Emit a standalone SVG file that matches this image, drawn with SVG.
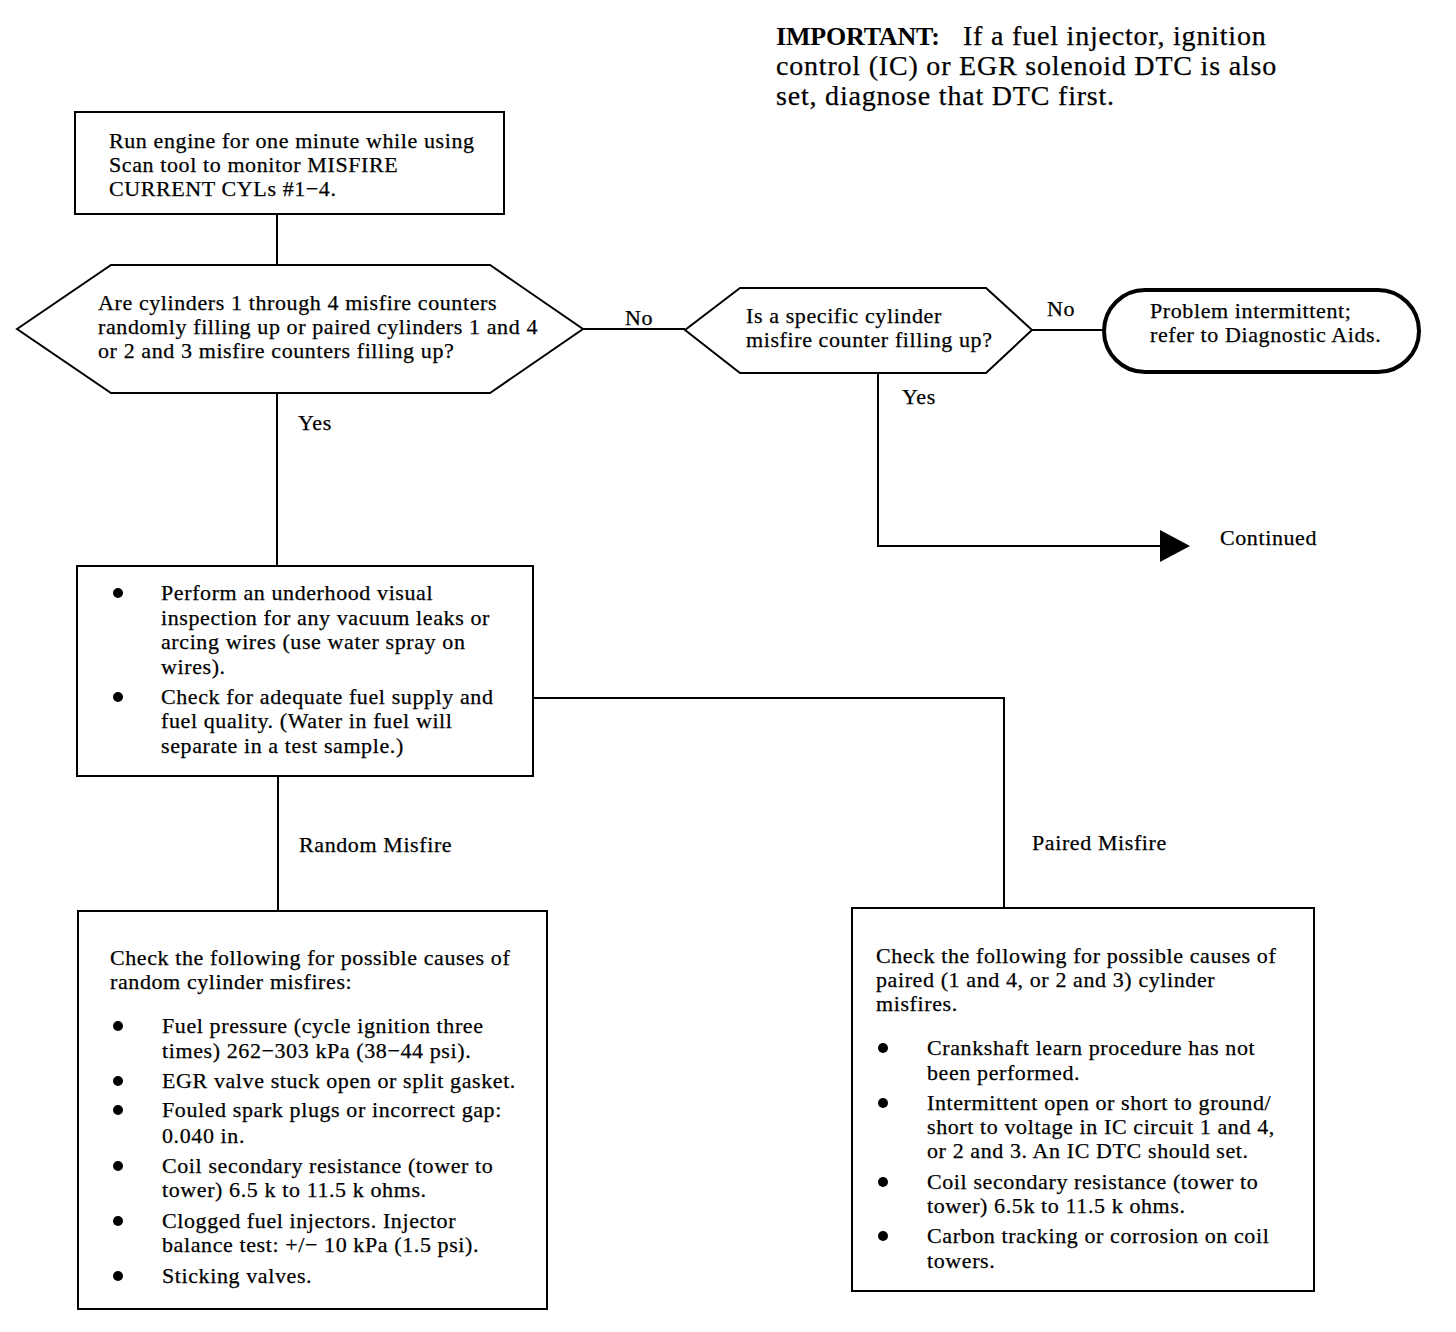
<svg xmlns="http://www.w3.org/2000/svg" width="1456" height="1332" viewBox="0 0 1456 1332">
<style>
.t{font-family:"Liberation Serif","Times New Roman",serif;font-size:22px;letter-spacing:0.6px;fill:#000;stroke:#000;stroke-width:0.25}
.imp{font-family:"Liberation Serif","Times New Roman",serif;font-size:28px;letter-spacing:0.8px;fill:#000;stroke:#000;stroke-width:0.25}
.b{font-family:"Liberation Serif","Times New Roman",serif;font-size:26px;font-weight:bold;letter-spacing:-0.2px;fill:#000}
.box{fill:#fff;stroke:#000;stroke-width:2}
.term{fill:#fff;stroke:#000;stroke-width:4}
.ln{fill:none;stroke:#000;stroke-width:2}
.dot{fill:#000}
</style>
<rect width="1456" height="1332" fill="#fff"/>
<g id="connectors">
<line class="ln" x1="277" y1="214" x2="277" y2="265"/>
<line class="ln" x1="583" y1="329" x2="685" y2="329"/>
<line class="ln" x1="1032" y1="330" x2="1104" y2="330"/>
<polyline class="ln" points="878,373 878,546 1162,546"/>
<polygon points="1160,530 1190,546 1160,562" fill="#000"/>
<line class="ln" x1="277" y1="393" x2="277" y2="566"/>
<line class="ln" x1="278" y1="776" x2="278" y2="911"/>
<polyline class="ln" points="533,698 1004,698 1004,908"/>
<text class="t" x="625" y="325">No</text>
<text class="t" x="1047" y="316">No</text>
<text class="t" x="902" y="404">Yes</text>
<text class="t" x="298" y="430">Yes</text>
<text class="t" x="299" y="852">Random Misfire</text>
<text class="t" x="1032" y="850">Paired Misfire</text>
<text class="t" x="1220" y="545">Continued</text>
</g>
<g id="important">
<text class="b" x="776" y="45">IMPORTANT:</text>
<text class="imp" x="963" y="45">If a fuel injector, ignition</text>
<text class="imp" x="776" y="75">control (IC) or EGR solenoid DTC is also</text>
<text class="imp" x="776" y="105">set, diagnose that DTC first.</text>
</g>
<g id="n1">
<rect class="box" x="75" y="112" width="429" height="102"/>
<text class="t" x="109" y="148">Run engine for one minute while using</text>
<text class="t" x="109" y="172">Scan tool to monitor MISFIRE</text>
<text class="t" x="109" y="196">CURRENT CYLs #1−4.</text>
</g>
<g id="n2">
<polygon class="box" points="17,329 111,265 490,265 583,329 490,393 111,393"/>
<text class="t" x="98" y="310">Are cylinders 1 through 4 misfire counters</text>
<text class="t" x="98" y="334">randomly filling up or paired cylinders 1 and 4</text>
<text class="t" x="98" y="358">or 2 and 3 misfire counters filling up?</text>
</g>
<g id="n3">
<polygon class="box" points="685,330 740,288 986,288 1032,330 986,373 740,373"/>
<text class="t" x="746" y="323">Is a specific cylinder</text>
<text class="t" x="746" y="347">misfire counter filling up?</text>
</g>
<g id="n4">
<rect class="term" x="1104" y="290" width="315" height="82" rx="41" ry="41"/>
<text class="t" x="1150" y="318">Problem intermittent;</text>
<text class="t" x="1150" y="342">refer to Diagnostic Aids.</text>
</g>
<g id="n5">
<rect class="box" x="77" y="566" width="456" height="210"/>
<circle class="dot" cx="118" cy="593" r="5"/>
<circle class="dot" cx="118" cy="697" r="5"/>
<text class="t" x="161" y="600">Perform an underhood visual</text>
<text class="t" x="161" y="625">inspection for any vacuum leaks or</text>
<text class="t" x="161" y="649">arcing wires (use water spray on</text>
<text class="t" x="161" y="674">wires).</text>
<text class="t" x="161" y="704">Check for adequate fuel supply and</text>
<text class="t" x="161" y="728">fuel quality. (Water in fuel will</text>
<text class="t" x="161" y="753">separate in a test sample.)</text>
</g>
<g id="n6">
<rect class="box" x="78" y="911" width="469" height="398"/>
<text class="t" x="110" y="965">Check the following for possible causes of</text>
<text class="t" x="110" y="989">random cylinder misfires:</text>
<circle class="dot" cx="118" cy="1026" r="5"/>
<circle class="dot" cx="118" cy="1081" r="5"/>
<circle class="dot" cx="118" cy="1110" r="5"/>
<circle class="dot" cx="118" cy="1166" r="5"/>
<circle class="dot" cx="118" cy="1221" r="5"/>
<circle class="dot" cx="118" cy="1276" r="5"/>
<text class="t" x="162" y="1033">Fuel pressure (cycle ignition three</text>
<text class="t" x="162" y="1058">times) 262−303 kPa (38−44 psi).</text>
<text class="t" x="162" y="1088">EGR valve stuck open or split gasket.</text>
<text class="t" x="162" y="1117">Fouled spark plugs or incorrect gap:</text>
<text class="t" x="162" y="1143">0.040 in.</text>
<text class="t" x="162" y="1173">Coil secondary resistance (tower to</text>
<text class="t" x="162" y="1197">tower) 6.5 k to 11.5 k ohms.</text>
<text class="t" x="162" y="1228">Clogged fuel injectors. Injector</text>
<text class="t" x="162" y="1252">balance test: +/− 10 kPa (1.5 psi).</text>
<text class="t" x="162" y="1283">Sticking valves.</text>
</g>
<g id="n7">
<rect class="box" x="852" y="908" width="462" height="383"/>
<text class="t" x="876" y="963">Check the following for possible causes of</text>
<text class="t" x="876" y="987">paired (1 and 4, or 2 and 3) cylinder</text>
<text class="t" x="876" y="1011">misfires.</text>
<circle class="dot" cx="883" cy="1048" r="5"/>
<circle class="dot" cx="883" cy="1103" r="5"/>
<circle class="dot" cx="883" cy="1182" r="5"/>
<circle class="dot" cx="883" cy="1236" r="5"/>
<text class="t" x="927" y="1055">Crankshaft learn procedure has not</text>
<text class="t" x="927" y="1080">been performed.</text>
<text class="t" x="927" y="1110">Intermittent open or short to ground/</text>
<text class="t" x="927" y="1134">short to voltage in IC circuit 1 and 4,</text>
<text class="t" x="927" y="1158">or 2 and 3. An IC DTC should set.</text>
<text class="t" x="927" y="1189">Coil secondary resistance (tower to</text>
<text class="t" x="927" y="1213">tower) 6.5k to 11.5 k ohms.</text>
<text class="t" x="927" y="1243">Carbon tracking or corrosion on coil</text>
<text class="t" x="927" y="1268">towers.</text>
</g>
</svg>
